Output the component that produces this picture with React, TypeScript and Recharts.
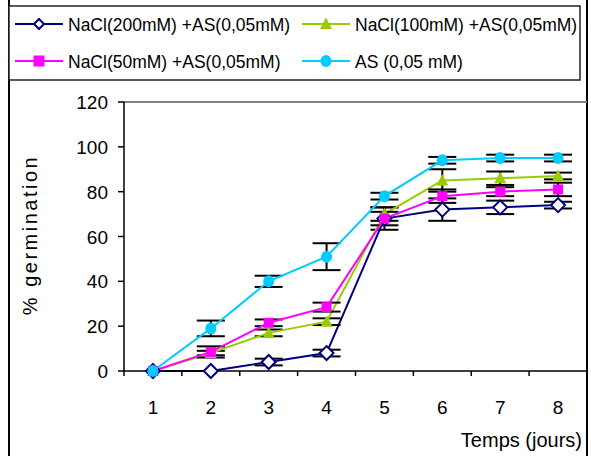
import React from 'react';
import { LineChart, Line, XAxis, YAxis, ErrorBar, ReferenceLine } from 'recharts';

const FONT = '"Liberation Sans", Arial, sans-serif';

// categories (days)
const days = [1, 2, 3, 4, 5, 6, 7, 8];
const dayBoundaries = [0.5, 1.5, 2.5, 3.5, 4.5, 5.5, 6.5, 7.5, 8.5];
const yTicks = [0, 20, 40, 60, 80, 100, 120];

// series values (% germination) and error bars
const nacl200 = [0, 0, 4, 8, 68, 72, 73, 74];
const nacl200Err = [0, 0, 1.5, 1.5, 5, 5, 3, 1.5];
const nacl100 = [0, 8, 17, 22, 70, 85, 86, 87];
const nacl100Err = [0, 1, 1.5, 1.5, 3, 5, 3, 1.5];
const nacl50 = [0, 8.5, 21.5, 28.5, 68, 78, 80, 81];
const nacl50Err = [0, 2.5, 1.5, 2, 3, 3, 2, 3];
const asOnly = [0, 19, 40, 51, 78, 94, 95, 95];
const asOnlyErr = [0, 3.5, 2.5, 6, 1.5, 1.5, 1.5, 1.5];

const seriesLabels = [
  'NaCl(200mM) +AS(0,05mM)',
  'NaCl(100mM) +AS(0,05mM)',
  'NaCl(50mM) +AS(0,05mM)',
  'AS (0,05 mM)',
];

const series = [
  { key: 's200', err: 'e200', color: '#000080', shape: 'diamond', values: nacl200, errors: nacl200Err },
  { key: 's100', err: 'e100', color: '#99CC00', shape: 'triangle', values: nacl100, errors: nacl100Err },
  { key: 's50', err: 'e50', color: '#FF00FF', shape: 'square', values: nacl50, errors: nacl50Err },
  { key: 'sAS', err: 'eAS', color: '#00CCFF', shape: 'circle', values: asOnly, errors: asOnlyErr },
];

const data = days.map((d, i) => {
  const row: any = { day: d };
  series.forEach((s) => {
    row[s.key] = s.values[i];
    row[s.err] = s.errors[i];
  });
  return row;
});

function Marker({ shape, cx, cy, color, k, small }: any) {
  if (cx == null || cy == null) return null;
  if (shape === 'diamond') {
    const h = small ? 5 : 7;
    return (
      <polygon
        key={k}
        points={`${cx},${cy - h} ${cx + h},${cy} ${cx},${cy + h} ${cx - h},${cy}`}
        fill="#fff"
        stroke={color}
        strokeWidth={2}
      />
    );
  }
  if (shape === 'square') {
    const h = small ? 5.5 : 5;
    return <rect key={k} x={cx - h} y={cy - h} width={2 * h} height={2 * h} fill={color} />;
  }
  if (shape === 'triangle') {
    return (
      <polygon
        key={k}
        points={`${cx},${cy - 6.5} ${cx + 6},${cy + 5} ${cx - 6},${cy + 5}`}
        fill={color}
      />
    );
  }
  return <ellipse key={k} cx={cx} cy={cy} rx={5.5} ry={6} fill={color} />;
}

const allXTicks = [...dayBoundaries, ...days].sort((a, b) => a - b);

function XTick(props: any) {
  const { x, y, payload } = props;
  const v = payload.value;
  if (Number.isInteger(v)) {
    return (
      <text x={x} y={y + 43} textAnchor="middle" fontSize={19} fontFamily={FONT} fill="#000">
        {v}
      </text>
    );
  }
  return <line x1={x} y1={y} x2={x} y2={y + 5} stroke="#000" strokeWidth={1.5} />;
}

function YTick(props: any) {
  const { x, y, payload } = props;
  return (
    <text x={x} y={y + 7} textAnchor="end" fontSize={19} fontFamily={FONT} fill="#000">
      {payload.value}
    </text>
  );
}

function Legend() {
  const colX = [15, 302];
  const rowY = [24, 61];
  return (
    <svg width={591} height={90} style={{ position: 'absolute', left: 0, top: 0 }}>
      <rect x={9} y={6} width={571} height={74} fill="#fff" stroke="#222" strokeWidth={1.5} />
      {series.map((s, i) => {
        const x0 = colX[i % 2];
        const y0 = rowY[Math.floor(i / 2)];
        return (
          <g key={s.key}>
            <line x1={x0} y1={y0} x2={x0 + 48} y2={y0} stroke={s.color} strokeWidth={2} />
            <Marker shape={s.shape} cx={x0 + 24} cy={y0} color={s.color} small />
            <text x={x0 + 53} y={y0 + 6.5} fontSize={17.5} fontFamily={FONT} fill="#000">
              {seriesLabels[i]}
            </text>
          </g>
        );
      })}
    </svg>
  );
}

export default function App() {
  return (
    <div
      style={{
        position: 'absolute',
        left: 0,
        top: 0,
        width: 591,
        height: 456,
        background: '#fff',
        overflow: 'hidden',
        fontFamily: FONT,
      }}
    >
      <div
        style={{
          position: 'absolute',
          left: 8,
          top: -10,
          width: 580,
          height: 490,
          border: '2px solid #000',
          boxSizing: 'border-box',
        }}
      />
      <div style={{ position: 'absolute', left: 0, top: 0 }}>
        <LineChart width={591} height={456} data={data} margin={{ top: 102, right: 4, bottom: 0, left: 0 }}>
          <ReferenceLine y={120} stroke="#808080" strokeWidth={2} />
          <XAxis
            type="number"
            dataKey="day"
            domain={[0.5, 8.5]}
            ticks={allXTicks}
            interval={0}
            allowDecimals
            tickLine={false}
            tickSize={0}
            tickMargin={0}
            height={85}
            axisLine={{ stroke: '#000', strokeWidth: 1.5 }}
            tick={<XTick />}
            label={{
              content: (p: any) => {
                const vb = p.viewBox || {};
                return (
                  <text
                    x={vb.x + vb.width - 5}
                    y={vb.y + 76}
                    textAnchor="end"
                    fontSize={20}
                    fontFamily={FONT}
                    fill="#000"
                  >
                    Temps (jours)
                  </text>
                );
              },
            }}
          />
          <YAxis
            type="number"
            domain={[0, 120]}
            ticks={yTicks}
            interval={0}
            width={124}
            tickSize={6}
            tickMargin={10}
            tickLine={{ stroke: '#000', strokeWidth: 1.5 }}
            axisLine={{ stroke: '#000', strokeWidth: 1.5 }}
            tick={<YTick />}
            label={{
              content: () => (
                <text
                  x={37}
                  y={235}
                  transform="rotate(-90 37 235)"
                  textAnchor="middle"
                  fontSize={20}
                  letterSpacing={2.5}
                  fontFamily={FONT}
                  fill="#000"
                >
                  % germination
                </text>
              ),
            }}
          />
          {series.map((s) => (
            <Line
              key={s.key}
              dataKey={s.key}
              stroke={s.color}
              strokeWidth={2}
              isAnimationActive={false}
              dot={(p: any) => <Marker k={`${s.key}-${p.index}`} key={`${s.key}-${p.index}`} shape={s.shape} cx={p.cx} cy={p.cy} color={s.color} />}
              activeDot={false}
            >
              <ErrorBar dataKey={s.err} width={14} strokeWidth={2} stroke="#000" direction="y" isAnimationActive={false} />
            </Line>
          ))}
        </LineChart>
      </div>
      <Legend />
    </div>
  );
}
